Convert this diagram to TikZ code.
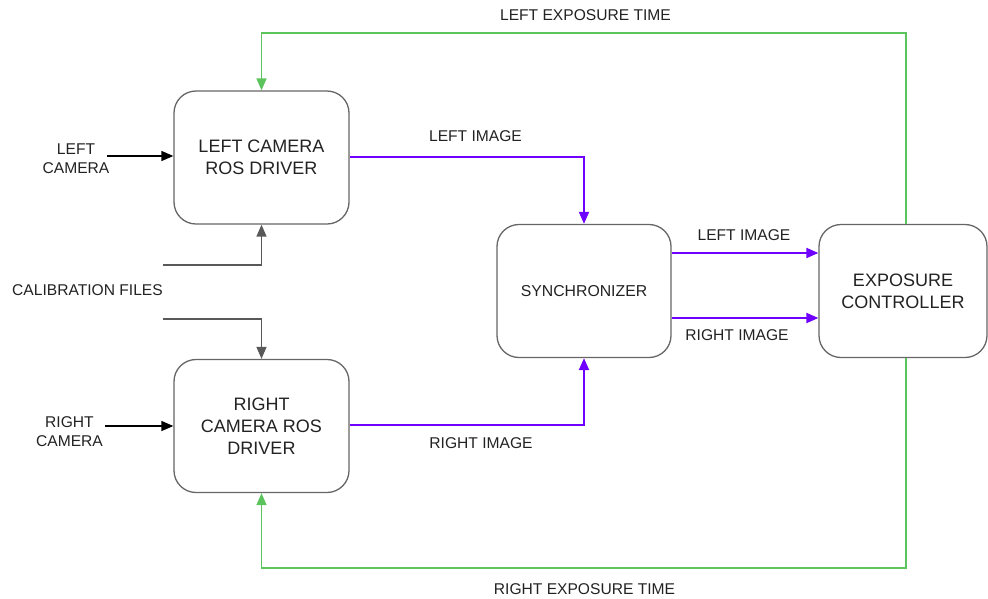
\documentclass[tikz,border=0pt]{standalone}
\usepackage{fontspec}
\setmainfont{Liberation Sans}
\usetikzlibrary{arrows.meta}
\definecolor{purp}{HTML}{6F00FF}
\definecolor{grn}{HTML}{5CC45C}
\definecolor{bord}{HTML}{666666}
\definecolor{calg}{HTML}{595959}
\definecolor{txt}{HTML}{222222}
\begin{document}
\begin{tikzpicture}[x=1pt,y=-1pt,
  blk/.style={draw=bord,line width=1.3pt,rounded corners=22pt,minimum width=175pt,minimum height=133pt,align=center,font=\fontsize{18}{22}\selectfont,text=txt,inner sep=0pt},
  lbl/.style={font=\fontsize{15.6}{19}\selectfont,text=txt,align=center,inner sep=0pt},
  tip/.style={-{Triangle[length=12pt,width=10pt]}},
  parr/.style={tip,draw=purp,line width=2pt},
  garr/.style={tip,draw=grn,line width=1.5pt},
  karr/.style={tip,draw=black,line width=1.5pt},
  carr/.style={tip,draw=calg,line width=1.5pt}]
\useasboundingbox (0,0) rectangle (988,598);
\node[blk] (lcam) at (261.5,157.5) {LEFT CAMERA\\ROS DRIVER};
\node[blk] (rcam) at (261.5,426) {RIGHT\\CAMERA ROS\\DRIVER};
\node[blk,minimum width=174pt,font=\fontsize{15.8}{18}\selectfont] (sync) at (584,291) {SYNCHRONIZER};
\node[blk,minimum width=168pt] (exp) at (903,291) {EXPOSURE\\CONTROLLER};

\node[lbl] (lcl) at (76,159) {LEFT\\CAMERA};
\node[lbl] (rcl) at (69.5,432) {RIGHT\\CAMERA};
\node[lbl] (cal) at (87.5,290) {CALIBRATION FILES};
\coordinate (lcs) at (107,156);
\coordinate (rcs) at (105,426);
\draw[karr] (lcs) -- (lcam.west |- lcs);
\draw[karr] (rcs) -- (rcam.west |- rcs);

\coordinate (c1) at (163,265);
\coordinate (c2) at (163,319);
\draw[carr] (c1) -| (lcam.south);
\draw[carr] (c2) -| (rcam.north);

\draw[parr] (lcam.east |- 0,157) -| (sync.north);
\draw[parr] (rcam.east |- 0,425) -| (sync.south);
\node[lbl] (li1) at (475.5,136) {LEFT IMAGE};
\node[lbl] (ri1) at (481,443) {RIGHT IMAGE};

\draw[parr] (sync.east |- 0,253) -- (exp.west |- 0,253);
\draw[parr] (sync.east |- 0,318) -- (exp.west |- 0,318);
\node[lbl] (li2) at (744,235) {LEFT IMAGE};
\node[lbl] (ri2) at (737,335) {RIGHT IMAGE};

\draw[garr] (exp.north -| 906,0) -- (906,33) -| (lcam.north);
\draw[garr] (exp.south -| 906,0) -- (906,568) -| (rcam.south);
\node[lbl] (let) at (585.5,15) {LEFT EXPOSURE TIME};
\node[lbl] (ret) at (584.5,589) {RIGHT EXPOSURE TIME};
\end{tikzpicture}
\end{document}
